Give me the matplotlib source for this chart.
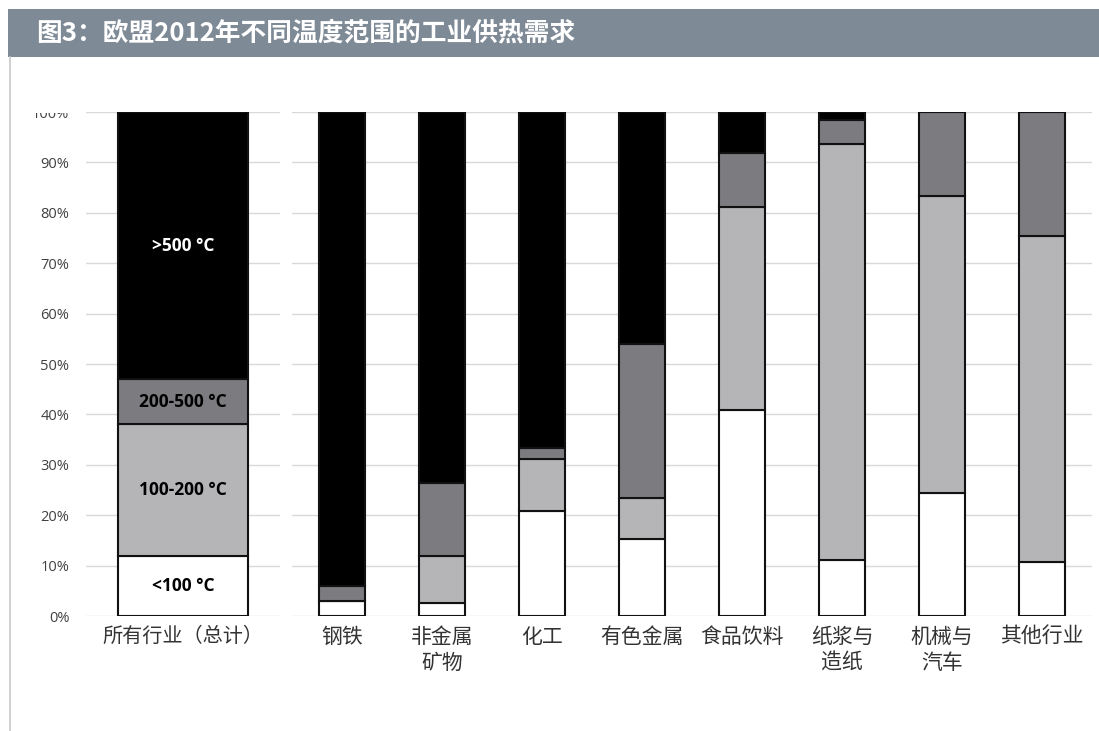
import matplotlib
matplotlib.use("Agg")
import matplotlib.pyplot as plt
from matplotlib.patches import Rectangle
from matplotlib.lines import Line2D
import numpy as np

plt.rcParams['font.family'] = ['Noto Sans CJK SC', 'DejaVu Sans']

title = "图3：欧盟2012年不同温度范围的工业供热需求"

# Temperature bands (bottom to top)
bands = ["<100 °C", "100-200 °C", "200-500 °C", ">500 °C"]
band_colors = ["#ffffff", "#b5b5b8", "#7c7c80", "#000000"]
band_text_colors = ["#000000", "#000000", "#000000", "#ffffff"]

# All industries (total), share in %
total_label = "所有行业（总计）"
total_shares = [12.0, 26.0, 9.0, 53.0]

# Individual sectors, share in % per band
sectors = ["钢铁", "非金属\n矿物", "化工", "有色金属", "食品饮料", "纸浆与\n造纸", "机械与\n汽车", "其他行业"]
below_100 = [3.0, 2.5, 20.8, 15.3, 40.9, 11.2, 24.5, 10.7]
from_100_200 = [0.0, 9.5, 10.4, 8.1, 40.3, 82.4, 58.8, 64.7]
from_200_500 = [3.0, 14.4, 2.1, 30.6, 10.7, 4.9, 16.7, 24.6]
above_500 = [94.0, 73.6, 66.7, 46.0, 8.1, 1.5, 0.0, 0.0]

yticks = [0, 10, 20, 30, 40, 50, 60, 70, 80, 90, 100]

W, H = 1099, 731
fig = plt.figure(figsize=(W / 100, H / 100), dpi=100)
fig.patch.set_facecolor("white")

def fx(px):
    return px / W

def fy(py):
    return 1 - py / H

# Header band
fig.patches.append(Rectangle((fx(8), fy(57)), fx(W - 8), (57 - 9) / H,
                             transform=fig.transFigure, facecolor="#7e8a96",
                             edgecolor="none", zorder=0))
fig.text(fx(36), fy(33), title, color="white", fontsize=18.5, fontweight="bold",
         va="center", ha="left")
# Left frame line
fig.add_artist(Line2D([fx(10), fx(10)], [fy(57), fy(731)], transform=fig.transFigure,
                      color="#c8c8c8", lw=1.2))

y_top, y_bot = 112, 616
grid_color = "#d9d9d9"
tick_color = "#404040"
label_color = "#333333"

def style_axes(ax):
    ax.set_ylim(0, 100)
    ax.set_yticks(yticks)
    for s in ax.spines.values():
        s.set_visible(False)
    ax.tick_params(axis="both", length=0)
    ax.yaxis.grid(True, color=grid_color, lw=1.0)
    ax.set_axisbelow(True)

# Left panel: all industries
ax1 = fig.add_axes([fx(86), fy(y_bot), fx(280 - 86), (y_bot - y_top) / H])
style_axes(ax1)
ax1.set_xlim(-0.5, 0.5)
bottom = 0.0
for val, col, tcol, name in zip(total_shares, band_colors, band_text_colors, bands):
    ax1.bar([0], [val], bottom=bottom, width=0.675, color=col, edgecolor="#111111",
            linewidth=1.5, zorder=3)
    ax1.text(0, bottom + val / 2, name, ha="center", va="center", color=tcol,
             fontsize=12.5, fontweight="bold", family=["Open Sans", "DejaVu Sans"], zorder=4)
    bottom += val
ax1.set_xticks([0])
ax1.set_xticklabels([total_label], fontsize=14.5, color=label_color)
ax1.set_yticklabels([f"{t}%" for t in yticks], fontsize=10.5, color=tick_color,
                    family=["Open Sans", "DejaVu Sans"])
ax1.tick_params(axis="y", pad=12)
ax1.tick_params(axis="x", pad=7)

# Right panel: sectors
ax2 = fig.add_axes([fx(292), fy(y_bot), fx(1092 - 292), (y_bot - y_top) / H])
style_axes(ax2)
x = np.arange(len(sectors))
ax2.set_xlim(-0.5, len(sectors) - 0.5)
bottom = np.zeros(len(sectors))
for vals, col in zip([below_100, from_100_200, from_200_500, above_500], band_colors):
    vals = np.array(vals)
    ax2.bar(x, vals, bottom=bottom, width=0.46, color=col, edgecolor="#111111",
            linewidth=1.5, zorder=3)
    bottom += vals
ax2.set_xticks(x)
ax2.set_xticklabels(sectors, fontsize=15, color=label_color, linespacing=1.25)
ax2.set_yticklabels([])
ax2.tick_params(axis="x", pad=7)

# The 100% label sits at the clipped upper edge of the chart area
fig.patches.append(Rectangle((fx(30), fy(112.5)), fx(54), 12 / H, transform=fig.transFigure,
                             facecolor="white", edgecolor="none", zorder=10))

fig.savefig("out.png", dpi=100)
